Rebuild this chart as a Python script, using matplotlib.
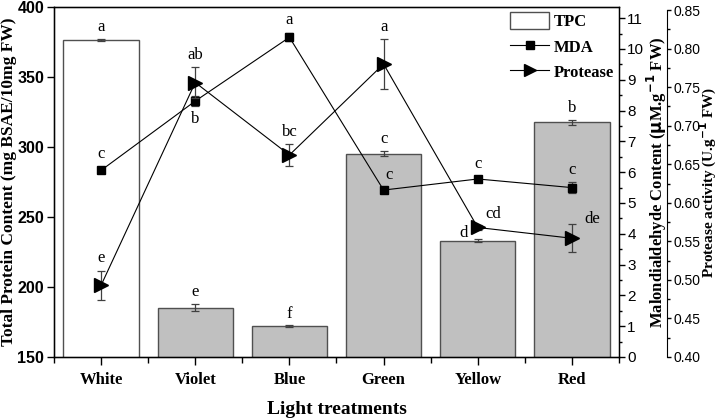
import matplotlib
matplotlib.use("Agg")
import matplotlib.pyplot as plt
from matplotlib.ticker import MultipleLocator, FormatStrFormatter
from matplotlib.patches import Patch
from matplotlib.lines import Line2D

categories = ["White", "Violet", "Blue", "Green", "Yellow", "Red"]
tpc = [376.4, 185.2, 172.2, 295.2, 233.0, 317.6]
tpc_err = [0.4, 2.6, 1.0, 1.7, 1.0, 1.9]
tpc_letters = ["a", "e", "f", "c", "d", "b"]
mda = [6.06, 8.31, 10.38, 5.42, 5.78, 5.50]
mda_err = [0.10, 0.16, 0.13, 0.05, 0.05, 0.17]
mda_letters = ["c", "b", "a", "c", "c", "c"]
protease = [0.493, 0.756, 0.662, 0.780, 0.568, 0.554]
protease_err = [0.019, 0.020, 0.014, 0.032, 0.003, 0.018]
protease_letters = ["e", "ab", "bc", "a", "cd", "de"]

serif = "Liberation Serif"
sans = "Liberation Sans"

AX_L, AX_W = 54, 565
fig = plt.figure(figsize=(7.22, 4.18), dpi=100)
ax = fig.add_axes([AX_L/722, 1-357/418, AX_W/722, 350/418])
x = list(range(len(categories)))

face = ["white"] + ["#c0c0c0"] * 5
ax.bar(x, tpc, width=0.8, color=face, edgecolor="#505050", linewidth=1.0, zorder=2)
ax.errorbar(x, tpc, yerr=tpc_err, fmt="none", ecolor="#404040", elinewidth=0.9,
            capsize=3, capthick=0.9, zorder=3)
ax.set_xlim(-0.5, 5.5)
ax.set_ylim(150, 400)
ax.yaxis.set_major_locator(MultipleLocator(50))
ax.set_xticks(x)
ax.set_xticklabels(categories, fontfamily=serif, fontweight="bold", fontsize=12)
ax.set_xticks([i - 0.5 for i in range(len(categories))] + [5.5], minor=True)
ax.tick_params(axis="x", which="major", direction="out", length=6, width=1, pad=5)
ax.tick_params(axis="x", which="minor", direction="out", length=4, width=1)
ax.tick_params(axis="y", which="major", direction="out", length=5, width=1, labelsize=11.5, pad=2)
for lab in ax.get_yticklabels():
    lab.set_fontfamily(sans)
    lab.set_fontweight("bold")
ax.set_ylabel("Total Protein Content (mg BSAE/10mg FW)", fontfamily=serif,
              fontweight="bold", fontsize=12.5)
ax.yaxis.set_label_coords((17 - AX_L) / AX_W, 0.5)
ax.set_xlabel("Light treatments", fontfamily=serif, fontweight="bold", fontsize=14, labelpad=9)
for s in ax.spines.values():
    s.set_linewidth(1.0)

tpc_off = [(0, 3), (0, 3), (0, 2), (0, 3), (-10, -1), (0, 3)]
for i, (v, e, l) in enumerate(zip(tpc, tpc_err, tpc_letters)):
    ax.annotate(l, (i, v + e), xytext=tpc_off[i], textcoords="offset points",
                ha="center", va="bottom", fontfamily=serif, fontsize=12, zorder=6)

ax2 = ax.twinx()
ax2.errorbar(x, mda, yerr=mda_err, color="black", marker="s", markersize=5.5,
             linewidth=0.8, ecolor="#404040", elinewidth=0.9, capsize=3, capthick=0.9, zorder=4)
ax2.set_ylim(0, 350/30.8)
ax2.yaxis.set_major_locator(MultipleLocator(1))
ax2.yaxis.set_minor_locator(MultipleLocator(0.5))
ax2.tick_params(axis="y", which="major", direction="out", length=4, width=1, labelsize=11, pad=2)
ax2.tick_params(axis="y", which="minor", direction="out", length=2.5, width=1)
for lab in ax2.get_yticklabels():
    lab.set_fontfamily(sans)
ax2.set_ylabel(r"Malondialdehyde Content ($\mathbf{\mu}$M.g$^{\mathbf{-1}}$ FW)",
               fontfamily=serif, fontweight="bold", fontsize=12)
ax2.yaxis.set_label_coords((645 - AX_L) / AX_W, 0.5)
mda_off = [(0, 4), (0, -22), (0, 4), (4, 4), (0, 4), (0, 3)]
for i, (v, e, l) in enumerate(zip(mda, mda_err, mda_letters)):
    ax2.annotate(l, (i, v + e), xytext=mda_off[i], textcoords="offset points",
                 ha="center", va="bottom", fontfamily=serif, fontsize=12, zorder=6)

ax3 = ax.twinx()
ax3.spines["right"].set_position(("outward", 34.5))
ax3.errorbar(x, protease, yerr=protease_err, color="black", marker=">", markersize=10,
             linewidth=0.8, ecolor="#404040", elinewidth=0.9, capsize=3, capthick=0.9, zorder=5)
ax3.set_ylim(0.40, 0.40 + 350/771)
ax3.spines["right"].set_bounds(0.40, 0.85)
ax3.yaxis.set_major_locator(MultipleLocator(0.05))
ax3.yaxis.set_minor_locator(MultipleLocator(0.025))
ax3.tick_params(axis="y", which="major", direction="out", length=3, width=1, labelsize=10, pad=1.5)
ax3.tick_params(axis="y", which="minor", direction="out", length=2, width=1)
for lab in ax3.get_yticklabels():
    lab.set_fontfamily(sans)
ax3.yaxis.set_major_formatter(FormatStrFormatter("%.2f"))
ax3.set_ylabel(r"Protease activity (U.g$^{\mathbf{-1}}$ FW)", fontfamily=serif,
               fontweight="bold", fontsize=11)
ax3.yaxis.set_label_coords((698 - AX_L) / AX_W, 0.5)
prot_off = [(0, 3), (0, 3), (0, 3), (0, 3), (11, 2), (15, -2)]
for i, (v, e, l) in enumerate(zip(protease, protease_err, protease_letters)):
    ax3.annotate(l, (i, v + e), xytext=prot_off[i], textcoords="offset points",
                 ha="center", va="bottom", fontfamily=serif, fontsize=12, zorder=6)

handles = [Patch(facecolor="white", edgecolor="#505050", linewidth=1.0),
           Line2D([], [], color="black", marker="s", markersize=5.5, linewidth=0.8),
           Line2D([], [], color="black", marker=">", markersize=9, linewidth=0.8)]
leg = ax3.legend(handles, ["TPC", "MDA", "Protease"], loc="upper right",
                 frameon=False, prop={"family": serif, "weight": "bold", "size": 12},
                 handlelength=2.3, handleheight=1.2, handletextpad=0.3, labelspacing=0.45,
                 borderaxespad=0.1, borderpad=0.2, bbox_to_anchor=(1.0, 1.0))

fig.savefig("out.png", dpi=100)
